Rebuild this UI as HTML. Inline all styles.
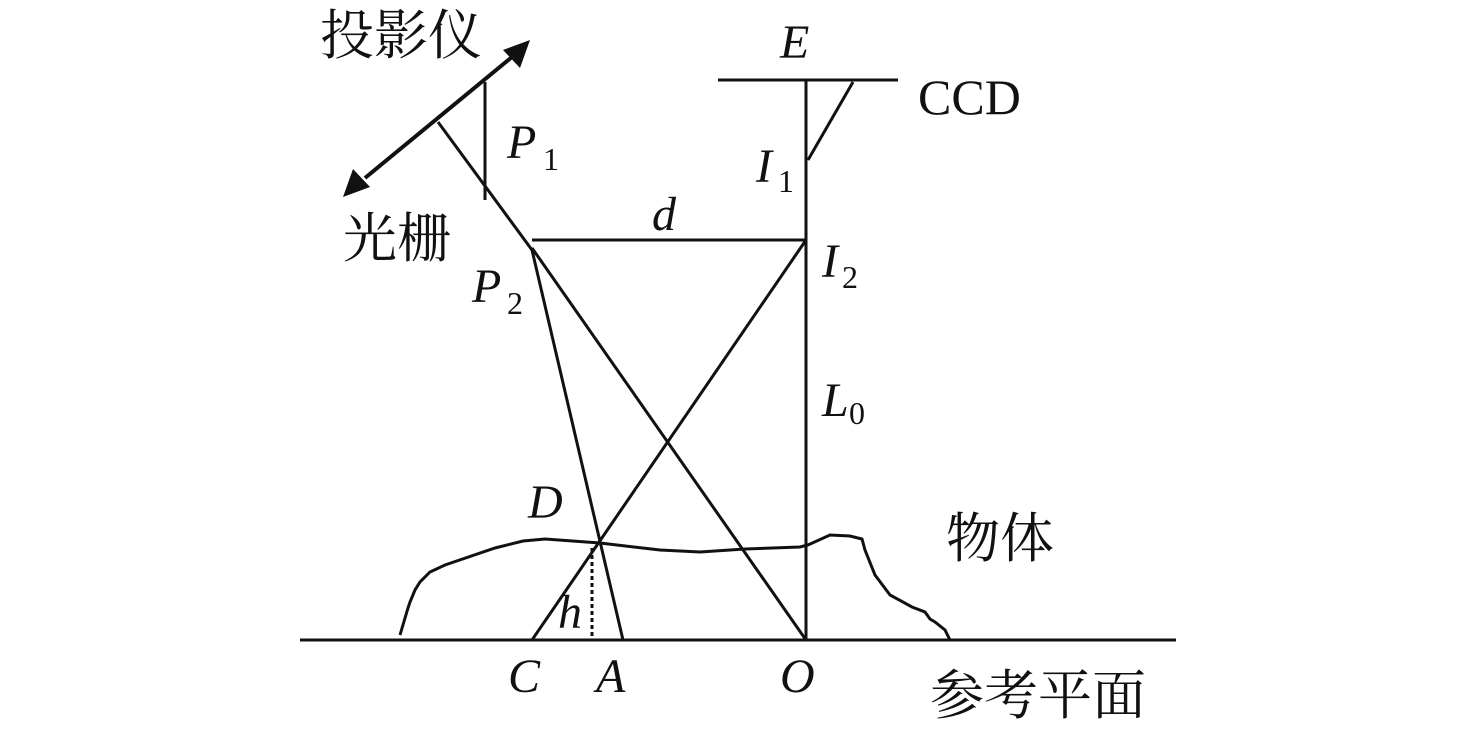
<!DOCTYPE html>
<html><head><meta charset="utf-8"><style>
body{margin:0;background:#fff}
svg text{font-family:"Liberation Serif","Noto Serif CJK SC",serif;fill:#111}
.i{font-style:italic;font-size:48px}
.s{font-size:32px}
.c{font-size:54px;font-family:"Liberation Serif","Noto Serif CJK SC",serif}
</style></head><body>
<svg width="1476" height="736" viewBox="0 0 1476 736" xmlns="http://www.w3.org/2000/svg">
<g stroke="#111" stroke-width="3" fill="none">
<line x1="365" y1="178" x2="512" y2="57" stroke-width="4"/>
<line x1="485" y1="82" x2="485" y2="200"/>
<line x1="438" y1="122" x2="532" y2="250"/>
<line x1="532" y1="250" x2="623" y2="640"/>
<line x1="532" y1="240" x2="806" y2="240"/>
<line x1="532" y1="248" x2="806" y2="640"/>
<line x1="806" y1="240" x2="532" y2="640"/>
<line x1="806" y1="80" x2="806" y2="640"/>
<line x1="718" y1="80" x2="898" y2="80"/>
<line x1="853" y1="82" x2="808" y2="160"/>
<line x1="300" y1="640" x2="1176" y2="640"/>
<line x1="592" y1="548" x2="592" y2="640" stroke-dasharray="4,3"/>
<polyline points="400,635 408,608 410,602 415,590 420,582 430,572 445,565 495,548 523,541 545,539 600,543 660,550 700,552 745,549 800,547 808,545 830,535 850,536 862,539 865,550 875,575 890,595 912,607 925,612 930,619 935,622 945,630 950,640"/>
</g>
<polygon points="530,40 503,50 520,68" fill="#111"/>
<polygon points="343,197 370,187 353,169" fill="#111"/>
<text x="320" y="54" class="c">投影仪</text>
<text x="343" y="257" class="c">光栅</text>
<text x="507" y="158" class="i">P</text><text x="543" y="170" class="s">1</text>
<text x="472" y="302" class="i">P</text><text x="507" y="314" class="s">2</text>
<text x="780" y="58" class="i">E</text>
<text x="918" y="114" font-size="50">CCD</text>
<text x="756" y="182" class="i">I</text><text x="778" y="192" class="s">1</text>
<text x="652" y="230" class="i">d</text>
<text x="822" y="277" class="i">I</text><text x="842" y="288" class="s">2</text>
<text x="822" y="416" class="i">L</text><text x="849" y="424" class="s">0</text>
<text x="528" y="518" class="i">D</text>
<text x="946" y="557" class="c">物体</text>
<text x="558" y="628" class="i">h</text>
<text x="508" y="692" class="i">C</text>
<text x="596" y="692" class="i">A</text>
<text x="780" y="692" class="i">O</text>
<text x="930" y="714" class="c">参考平面</text>
</svg>
</body></html>
